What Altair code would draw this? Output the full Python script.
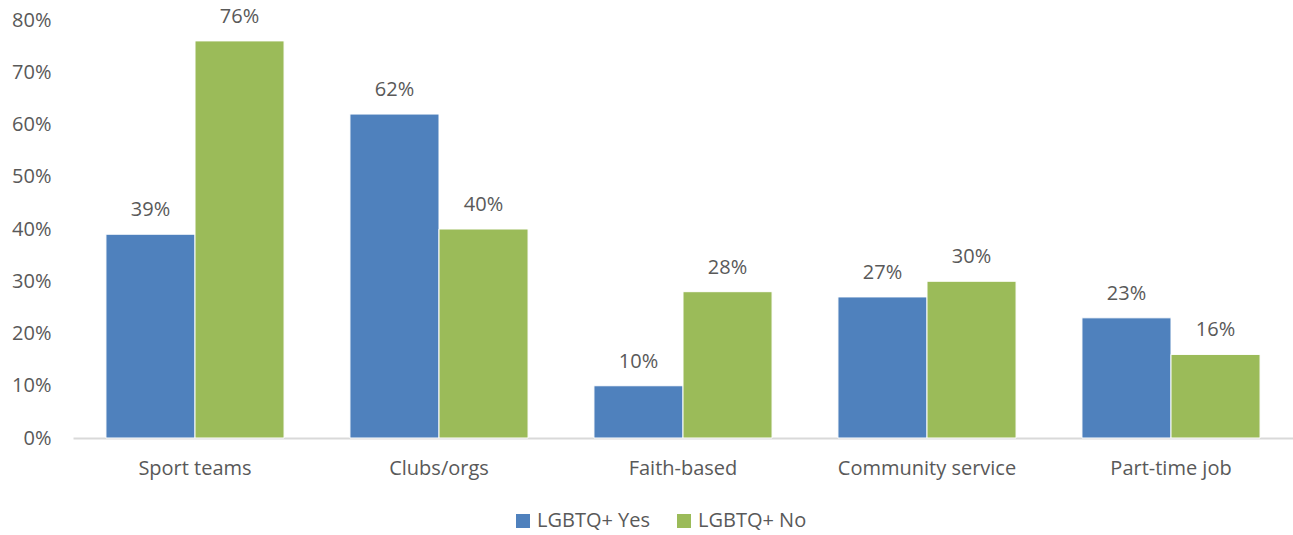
import altair as alt
import pandas as pd

categories = ["Sport teams", "Clubs/orgs", "Faith-based", "Community service", "Part-time job"]
series = ["LGBTQ+ Yes", "LGBTQ+ No"]
yes_values = [0.39, 0.62, 0.10, 0.27, 0.23]
no_values = [0.76, 0.40, 0.28, 0.30, 0.16]
colors = ["#4F81BD", "#9BBB59"]

rows = []
for c, y, n in zip(categories, yes_values, no_values):
    rows.append({"category": c, "series": series[0], "value": y})
    rows.append({"category": c, "series": series[1], "value": n})
df = pd.DataFrame(rows)

FONT = "Open Sans"
TXT = "#595959"
FS = 20

x = alt.X("category:N", sort=categories, title=None,
          scale=alt.Scale(paddingInner=0.27, paddingOuter=0.135),
          axis=alt.Axis(labelAngle=0, labelFontSize=FS, labelColor=TXT, labelFont=FONT,
                        labelPadding=20, ticks=False, domainColor="#D9D9D9", domainWidth=2))
xo = alt.XOffset("series:N", sort=series, scale=alt.Scale(paddingInner=0, paddingOuter=0))
y = alt.Y("value:Q", title=None,
          scale=alt.Scale(domain=[0, 0.8], nice=False),
          axis=alt.Axis(format=".0%", values=[i / 10 for i in range(9)], grid=False, ticks=False,
                        domain=False, labelFontSize=FS, labelColor=TXT, labelFont=FONT, labelPadding=22))

base = alt.Chart(df).encode(x=x, xOffset=xo, y=y)

bars = base.mark_bar(stroke="white", strokeWidth=1).encode(
    color=alt.Color("series:N", sort=series,
                    scale=alt.Scale(domain=series, range=colors),
                    legend=alt.Legend(title=None, orient="none", legendX=440, legendY=491,
                                      direction="horizontal", symbolType="square", symbolSize=196,
                                      symbolStrokeWidth=0, labelFontSize=FS, labelColor=TXT,
                                      labelFont=FONT, columnPadding=23, labelOffset=4))
)

labels = base.mark_text(fontSize=FS, color=TXT, font=FONT, baseline="alphabetic", dy=-18).encode(
    text=alt.Text("value:Q", format=".0%")
)

chart = alt.layer(bars, labels).properties(
    width=1220, height=418,
    autosize=alt.AutoSizeParams(type="none"),
    padding={"left": 73, "top": 20, "right": 0, "bottom": 97},
).configure_view(stroke=None)

chart.save("out.html", embed_options={"renderer": "svg", "actions": False})
